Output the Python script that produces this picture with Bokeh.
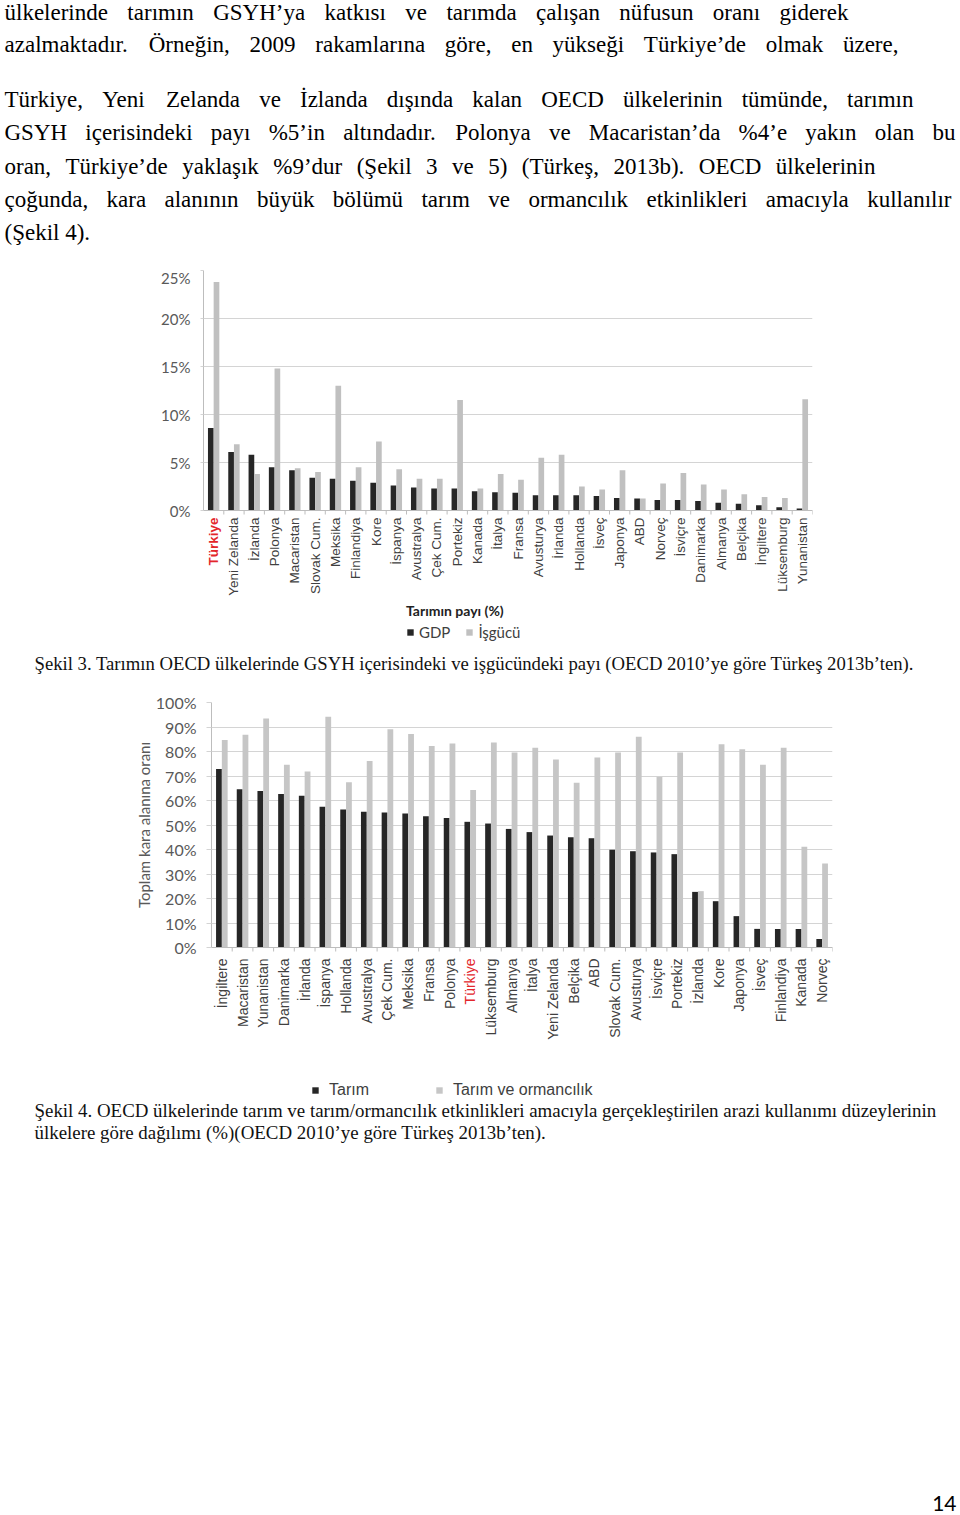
import math
from bokeh.plotting import figure
from bokeh.models import (ColumnDataSource, FactorRange, Range1d, FixedTicker,
                          PrintfTickFormatter, Span)
from bokeh.transform import dodge
from bokeh.core.properties import value, field
from bokeh.embed import file_html
from bokeh.resources import INLINE

# ---------------- data ----------------
c1_countries = ["Türkiye", "Yeni Zelanda", "İzlanda", "Polonya", "Macaristan", "Slovak Cum.",
                "Meksika", "Finlandiya", "Kore", "İspanya", "Avustralya", "Çek Cum.", "Portekiz",
                "Kanada", "İtalya", "Fransa", "Avusturya", "İrlanda", "Hollanda", "İsveç",
                "Japonya", "ABD", "Norveç", "İsviçre", "Danimarka", "Almanya", "Belçika",
                "İngiltere", "Lüksemburg", "Yunanistan"]
c1_gdp = [8.6, 6.1, 5.8, 4.5, 4.2, 3.4, 3.3, 3.1, 2.9, 2.6, 2.4, 2.3, 2.3, 2.0, 1.9,
          1.85, 1.6, 1.6, 1.6, 1.5, 1.3, 1.25, 1.1, 1.1, 1.0, 0.8, 0.7, 0.55, 0.35, 0.2]
c1_labor = [23.8, 6.9, 3.8, 14.8, 4.4, 4.0, 13.0, 4.5, 7.2, 4.3, 3.3, 3.3, 11.5, 2.3, 3.8,
            3.2, 5.5, 5.8, 2.5, 2.2, 4.2, 1.25, 2.8, 3.9, 2.7, 2.2, 1.7, 1.4, 1.3, 11.6]
c1_ticks = [0, 5, 10, 15, 20, 25]

c2_countries = ["İngiltere", "Macaristan", "Yunanistan", "Danimarka", "İrlanda", "İspanya",
                "Hollanda", "Avustralya", "Çek Cum.", "Meksika", "Fransa", "Polonya", "Türkiye",
                "Lüksemburg", "Almanya", "İtalya", "Yeni Zelanda", "Belçika", "ABD",
                "Slovak Cum.", "Avusturya", "İsviçre", "Portekiz", "İzlanda", "Kore",
                "Japonya", "İsveç", "Finlandiya", "Kanada", "Norveç"]
c2_tarim = [72.9, 64.6, 63.9, 62.7, 61.9, 57.4, 56.3, 55.4, 55.1, 54.7, 53.6, 52.9, 51.3,
            50.6, 48.4, 47.1, 45.7, 45.0, 44.6, 39.9, 39.3, 38.8, 38.1, 22.7, 18.9, 12.8,
            7.6, 7.6, 7.6, 3.5]
c2_orman = [84.7, 86.8, 93.5, 74.6, 71.8, 94.2, 67.4, 76.1, 89.1, 87.1, 82.2, 83.3, 64.3,
            83.7, 79.6, 81.5, 76.7, 67.2, 77.6, 79.6, 86.0, 69.7, 79.6, 23.0, 83.0, 80.9,
            74.6, 81.5, 41.1, 34.3]
c2_ticks = [0, 10, 20, 30, 40, 50, 60, 70, 80, 90, 100]
c2_ytitle = "Toplam kara alanına oranı"

para_lines = [
    "ülkelerinde tarımın GSYH’ya katkısı ve tarımda çalışan nüfusun oranı giderek",
    "azalmaktadır. Örneğin, 2009 rakamlarına göre, en yükseği Türkiye’de olmak üzere,",
    "Türkiye, Yeni Zelanda ve İzlanda dışında kalan OECD ülkelerinin tümünde, tarımın",
    "GSYH içerisindeki payı %5’in altındadır. Polonya ve Macaristan’da %4’e yakın olan bu",
    "oran, Türkiye’de yaklaşık %9’dur (Şekil 3 ve 5) (Türkeş, 2013b). OECD ülkelerinin",
    "çoğunda, kara alanının büyük bölümü tarım ve ormancılık etkinlikleri amacıyla kullanılır",
    "(Şekil 4).",
]
caption3 = ("Şekil 3. Tarımın OECD ülkelerinde GSYH içerisindeki ve işgücündeki payı "
            "(OECD 2010’ye göre Türkeş 2013b’ten).")
caption4 = ["Şekil 4. OECD ülkelerinde tarım ve tarım/ormancılık etkinlikleri amacıyla "
            "gerçekleştirilen arazi kullanımı düzeylerinin",
            "ülkelere göre dağılımı (%)(OECD 2010’ye göre Türkeş 2013b’ten)."]
page_no = "14"

# ---------------- layout / style constants ----------------
PARA_LEFT = 4
PARA_RIGHT = [848, 898, 913, 955, 875, 951, None]
PARA_BASE = [12, 44, 99, 132, 166, 199, 232]
PARA_FS = 23

DARK = "#262626"
LIGHT1 = "#c0c0c0"
LIGHT2 = "#c6c6c6"
GRID = "#d4d4d4"
AXIS = "#bdbdbd"
LABEL = "#404040"
RED = "#e3262b"

# Times / Liberation Serif advance widths (1/1000 em)
TW = {" ": 250, "%": 833, "’": 333, "'": 180, "(": 333, ")": 333, ",": 250, ".": 250, "/": 278,
      "A": 722, "B": 667, "C": 667, "D": 722, "E": 611, "F": 556, "G": 722, "H": 722, "I": 333,
      "J": 389, "K": 722, "L": 611, "M": 889, "N": 722, "O": 722, "P": 556, "Q": 722, "R": 667,
      "S": 556, "T": 611, "U": 722, "V": 722, "W": 944, "X": 722, "Y": 722, "Z": 611,
      "a": 444, "b": 500, "c": 444, "d": 500, "e": 444, "f": 333, "g": 500, "h": 500, "i": 278,
      "j": 278, "k": 500, "l": 278, "m": 778, "n": 500, "o": 500, "p": 500, "q": 500, "r": 333,
      "s": 389, "t": 278, "u": 500, "v": 500, "w": 722, "x": 500, "y": 500, "z": 444,
      "ç": 444, "ğ": 500, "ı": 278, "ö": 500, "ş": 389, "ü": 500,
      "Ç": 667, "Ğ": 722, "İ": 333, "Ö": 722, "Ş": 556, "Ü": 722}


def em_width(s):
    return sum(TW.get(ch, 500) for ch in s) / 1000.0


def place(top, left=0):
    return {"position": "absolute", "left": f"{left}px", "top": f"{top}px"}


def text_fig(top, h, w=960, left=0, transparent=False):
    p = figure(width=w, height=h, x_range=Range1d(0, w), y_range=Range1d(h, 0),
               output_backend="svg", toolbar_location=None, min_border=0,
               x_axis_location=None, y_axis_location=None, styles=place(top, left))
    p.grid.visible = False
    p.outline_line_color = None
    if transparent:
        p.background_fill_alpha = 0
        p.border_fill_alpha = 0
    return p


# ---------------- top paragraph (justified) ----------------
f0 = text_fig(0, 268)
wx, wy, wt = [], [], []
for line, right, base in zip(para_lines, PARA_RIGHT, PARA_BASE):
    words = line.split(" ")
    widths = [em_width(w) * PARA_FS for w in words]
    if right is None or len(words) < 2:
        gap = em_width(" ") * PARA_FS
    else:
        gap = (right - PARA_LEFT - sum(widths)) / (len(words) - 1)
    x = PARA_LEFT
    for w, wd in zip(words, widths):
        wx.append(x)
        wy.append(base)
        wt.append(w)
        x += wd + gap
f0.text(x=wx, y=wy, text=wt, text_font=value("Liberation Serif"),
        text_font_size=value(f"{PARA_FS}px"), text_color="#000000",
        text_align="left", text_baseline="middle")


def bar_chart(top, countries, s1, s2, n1, n2, light, ymax, ticks, plot_px, extra_px,
              left, right, border_top, lab_px, lab_fs, bold_tr, tick_fs, tick_out):
    ystart = -ymax * extra_px / plot_px
    src = ColumnDataSource(dict(
        country=countries, s1=s1, s2=s2,
        color=[RED if c == "Türkiye" else LABEL for c in countries],
        fstyle=["bold" if (c == "Türkiye" and bold_tr) else "normal" for c in countries]))
    p = figure(width=960, height=border_top + plot_px + extra_px,
               x_range=FactorRange(factors=countries, range_padding=0),
               y_range=Range1d(ystart, ymax), output_backend="svg", toolbar_location=None,
               min_border_left=left, min_border_right=960 - right,
               min_border_top=border_top, min_border_bottom=0,
               x_axis_location=None, styles=place(top))
    p.vbar(x=dodge("country", -0.14, range=p.x_range), top="s1", width=0.28, source=src,
           fill_color=DARK, line_color=None, legend_label=n1)
    p.vbar(x=dodge("country", 0.14, range=p.x_range), top="s2", width=0.28, source=src,
           fill_color=light, line_color=None, legend_label=n2)
    # category axis line and tick marks between categories
    p.add_layout(Span(location=0, dimension="width", line_color=AXIS, line_width=1))
    tick_len = -ymax * 4 / plot_px
    p.segment(x0=dodge("country", 0.5, range=p.x_range), y0=0,
              x1=dodge("country", 0.5, range=p.x_range), y1=tick_len,
              source=src, line_color=AXIS, line_width=1)
    p.outline_line_color = None
    p.xgrid.visible = False
    p.ygrid.ticker = FixedTicker(ticks=ticks)
    p.ygrid.grid_line_color = GRID
    ax = p.yaxis[0]
    ax.bounds = (0, ymax)
    ax.ticker = FixedTicker(ticks=ticks)
    ax.formatter = PrintfTickFormatter(format="%d%%")
    ax.major_label_text_font = "Lato"
    ax.major_label_text_font_size = tick_fs
    ax.major_label_text_color = "#595959"
    ax.major_label_standoff = 10
    ax.major_tick_out = tick_out
    ax.major_tick_in = 0
    ax.major_tick_line_color = GRID
    ax.minor_tick_line_color = None
    ax.axis_line_color = AXIS
    # category labels (vertical, under the bars)
    p.text(x="country", y=-ymax * lab_px / plot_px, text="country", source=src,
           angle=math.pi / 2, text_align="right", text_baseline="middle",
           text_font=value("Liberation Sans"), text_font_size=value(lab_fs),
           text_color=field("color"), text_font_style=field("fstyle"))
    lg = p.legend[0]
    lg.orientation = "horizontal"
    lg.padding = 0
    lg.margin = 0
    lg.border_line_color = None
    lg.background_fill_alpha = 0
    lg.glyph_width = 8
    lg.glyph_height = 8
    return p, lg


# ---------------- chart 1 ----------------
p1, lg1 = bar_chart(268, c1_countries, c1_gdp, c1_labor, "GDP", "İşgücü", LIGHT1, 25, c1_ticks,
                    plot_px=240, extra_px=135, left=203, right=812, border_top=2,
                    lab_px=7, lab_fs="13.5px", bold_tr=True, tick_fs="15px", tick_out=3)
lg1.location = (203, 4)
lg1.title = "Tarımın payı (%)"
lg1.title_text_font = "Lato"
lg1.title_text_font_style = "bold"
lg1.title_text_font_size = "14px"
lg1.title_text_color = "#222222"
lg1.title_standoff = 4
lg1.label_text_font = "Lato"
lg1.label_text_font_size = "15px"
lg1.label_text_color = "#404040"
lg1.label_height = 14
lg1.label_standoff = 5
lg1.spacing = 15

# ---------------- caption 3 ----------------
f2 = text_fig(645, 45)
cap3_fs = (918 - 34) / em_width(caption3)
f2.text(x=[34], y=[18], text=[caption3], text_font=value("Liberation Serif"),
        text_font_size=value(f"{cap3_fs:.1f}px"), text_color="#111111",
        text_align="left", text_baseline="middle")

# ---------------- chart 2 ----------------
p2, lg2 = bar_chart(690, c2_countries, c2_tarim, c2_orman, "Tarım", "Tarım ve ormancılık",
                    LIGHT2, 100, c2_ticks, plot_px=245, extra_px=153, left=211, right=832,
                    border_top=12, lab_px=11, lab_fs="14px", bold_tr=False, tick_fs="16px",
                    tick_out=5)
lg2.location = (100, 1)
lg2.label_text_font = "Liberation Sans"
lg2.label_text_font_size = "16px"
lg2.label_text_color = "#404040"
lg2.label_height = 16
lg2.label_standoff = 10
lg2.spacing = 66

# y-axis title of chart 2 (vertical)
fy = text_fig(702, 245, w=30, left=128, transparent=True)
fy.text(x=[15], y=[122.5], text=[c2_ytitle], angle=math.pi / 2, text_align="center",
        text_baseline="middle", text_font=value("Lato"), text_font_size=value("15px"),
        text_color="#595959")

# ---------------- caption 4 + page number ----------------
f4 = text_fig(1100, 415)
cap4_fs = (938 - 34) / em_width(caption4[0])
f4.text(x=[34, 34], y=[10, 32], text=caption4, text_font=value("Liberation Serif"),
        text_font_size=value(f"{cap4_fs:.1f}px"), text_color="#111111",
        text_align="left", text_baseline="middle")
f4.text(x=[956], y=[403], text=[page_no], text_font=value("Lato"),
        text_font_size=value("21px"), text_color="#000000",
        text_align="right", text_baseline="middle")

open("out.html", "w").write(file_html([f0, p1, f2, p2, fy, f4], INLINE))
